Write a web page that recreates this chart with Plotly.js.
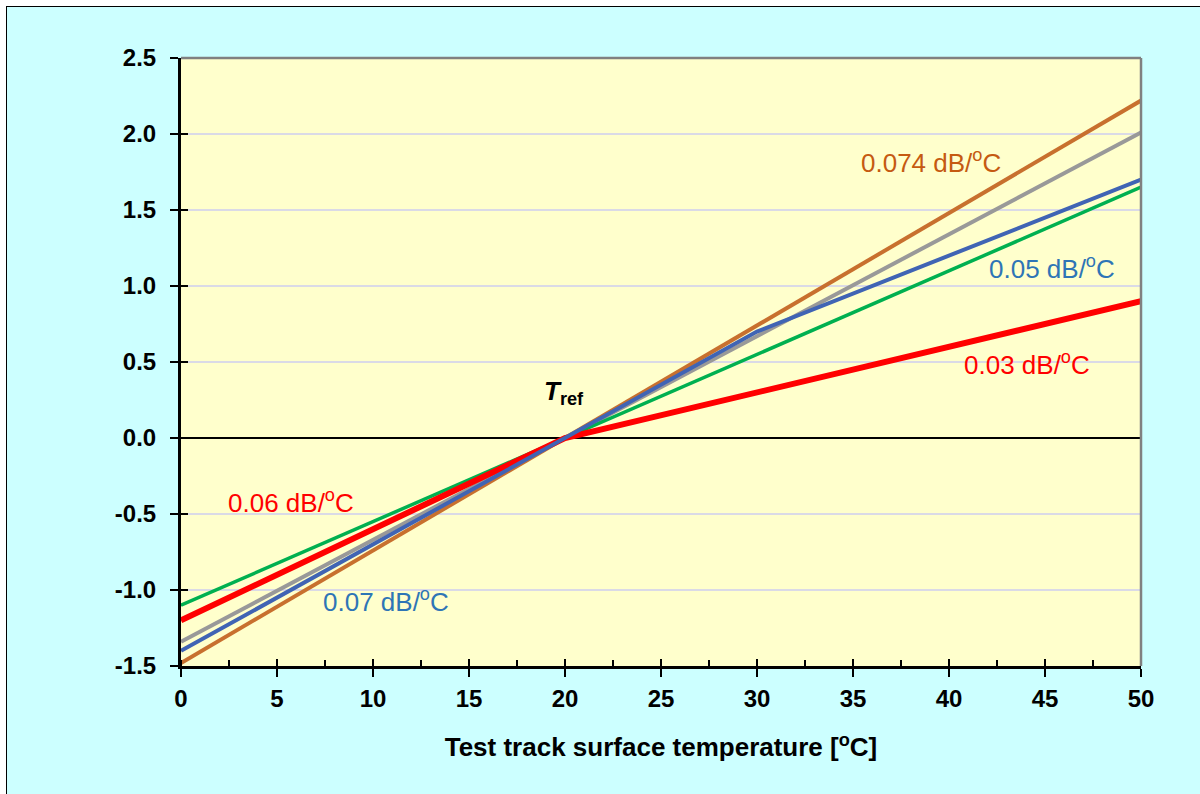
<!DOCTYPE html>
<html>
<head>
<meta charset="utf-8">
<script src="https://cdn.plot.ly/plotly-3.0.1.min.js"></script>
<style>
  html, body { margin: 0; padding: 0; background: #ffffff; width: 1200px; height: 794px; overflow: hidden; }
  #wrap { position: absolute; left: 6px; top: 6px; border-left: 1px solid #000; border-top: 1px solid #000; width: 1193px; height: 787px; }
  #chart { width: 1193px; height: 787px; }
</style>
</head>
<body>
<div id="wrap"><div id="chart"></div></div>
<script>
// ---- data ----
const xEnds = [0, 50];
const orangeY = [-1.48, 2.22];   // 0.074 dB/°C
const grayY = [-1.34, 2.01];
const greenY = [-1.10, 1.65];
const blueX = [0, 20, 30, 50];
const blueY = [-1.40, 0.00, 0.70, 1.70];  // 0.07 / 0.05 dB/°C
const redX = [0, 20, 50];
const redY = [-1.20, 0.00, 0.90];         // 0.06 / 0.03 dB/°C

const xTicks = [0, 5, 10, 15, 20, 25, 30, 35, 40, 45, 50];
const yTicks = [-1.5, -1.0, -0.5, 0.0, 0.5, 1.0, 1.5, 2.0, 2.5];

const labelTexts = ['0.074 dB/<sup>o</sup>C', '0.05 dB/<sup>o</sup>C', '0.03 dB/<sup>o</sup>C', '0.06 dB/<sup>o</sup>C', '0.07 dB/<sup>o</sup>C'];
const labelX = [39.06, 45.34, 44.04, 5.73, 10.68];
const labelY = [1.82, 1.125, 0.49, -0.42, -1.07];
const labelColors = ['#C55A11', '#2E75B6', '#FF0000', '#FF0000', '#2E75B6'];

const ORANGE = '#C8702E', GRAY = '#999999', GREEN = '#00B050', BLUE = '#4064B4', RED = '#FF0000';

const traces = [
  {x: xEnds, y: orangeY, mode: 'lines', line: {color: ORANGE, width: 4}},
  {x: xEnds, y: grayY, mode: 'lines', line: {color: GRAY, width: 4}},
  {x: xEnds, y: greenY, mode: 'lines', line: {color: GREEN, width: 3.5}},
  {x: redX, y: redY, mode: 'lines', line: {color: RED, width: 6}},
  {x: blueX, y: blueY, mode: 'lines', line: {color: BLUE, width: 4}}
].map(t => Object.assign(t, {hoverinfo: 'skip', showlegend: false}));

const FONT = 'Liberation Sans, Arial, sans-serif';
const tickFont = {family: FONT, size: 24, color: '#000', weight: 'bold'};

const annotations = labelTexts.map((t, i) => ({
  x: labelX[i], y: labelY[i], xref: 'x', yref: 'y', text: t, showarrow: false,
  font: {family: FONT, size: 26, color: labelColors[i]},
  xanchor: 'center', yanchor: 'middle'
}));
annotations.push({
  x: 19.95, y: 0.30, xref: 'x', yref: 'y', showarrow: false,
  text: '<b><i>T</i><sub>ref</sub></b>',
  font: {family: FONT, size: 26, color: '#000'},
  xanchor: 'center', yanchor: 'middle'
});

const layout = {
  width: 1193, height: 787,
  paper_bgcolor: '#CCFFFF',
  plot_bgcolor: '#FFFFCC',
  margin: {l: 174, r: 59, t: 51, b: 128},
  xaxis: {
    range: [0, 50], tickvals: xTicks, ticktext: xTicks.map(String),
    showgrid: false, zeroline: false,
    showline: true, linecolor: '#000', linewidth: 3,
    ticks: 'outside', ticklen: 8, tickwidth: 2, tickcolor: '#000',
    minor: {ticks: 'inside', dtick: 2.5, tick0: 0, ticklen: 6, tickwidth: 2, tickcolor: '#000', showgrid: false},
    tickfont: tickFont, ticklabelstandoff: 1,
    title: {text: '<b>Test track surface temperature [<sup>o</sup>C]</b>', font: {family: FONT, size: 26, color: '#000'}, standoff: 28}
  },
  yaxis: {
    range: [-1.5, 2.5], tickvals: yTicks, ticktext: yTicks.map(v => v.toFixed(1)),
    showgrid: true, gridcolor: '#DADAE6', gridwidth: 1.5,
    zeroline: true, zerolinecolor: '#000', zerolinewidth: 2,
    showline: true, linecolor: '#000', linewidth: 3,
    ticks: 'outside', ticklen: 8, tickwidth: 2, tickcolor: '#000',
    tickfont: tickFont, ticklabelstandoff: 9
  },
  xaxis2: {
    overlaying: 'x', anchor: 'y', side: 'bottom', range: [0, 50], tickvals: xTicks,
    showticklabels: false, showgrid: false, zeroline: false, showline: false,
    ticks: 'inside', ticklen: 7, tickwidth: 2, tickcolor: '#000'
  },
  yaxis2: {
    overlaying: 'y', anchor: 'x', side: 'left', range: [-1.5, 2.5], tickvals: yTicks,
    showticklabels: false, showgrid: false, zeroline: false, showline: false,
    ticks: 'inside', ticklen: 7, tickwidth: 2, tickcolor: '#000'
  },
  shapes: [
    {type: 'line', xref: 'paper', yref: 'paper', x0: 0, x1: 1, y0: 1, y1: 1, line: {color: '#808080', width: 2.5}, layer: 'above'},
    {type: 'line', xref: 'paper', yref: 'paper', x0: 1, x1: 1, y0: 0, y1: 1, line: {color: '#808080', width: 2.5}, layer: 'above'}
  ],
  annotations: annotations
};

const dummy = {x: [0], y: [0], xaxis: 'x2', yaxis: 'y2', mode: 'markers', marker: {opacity: 0}, hoverinfo: 'skip', showlegend: false};

Plotly.newPlot('chart', traces.concat([dummy]), layout, {displayModeBar: false, staticPlot: true});
</script>
</body>
</html>
